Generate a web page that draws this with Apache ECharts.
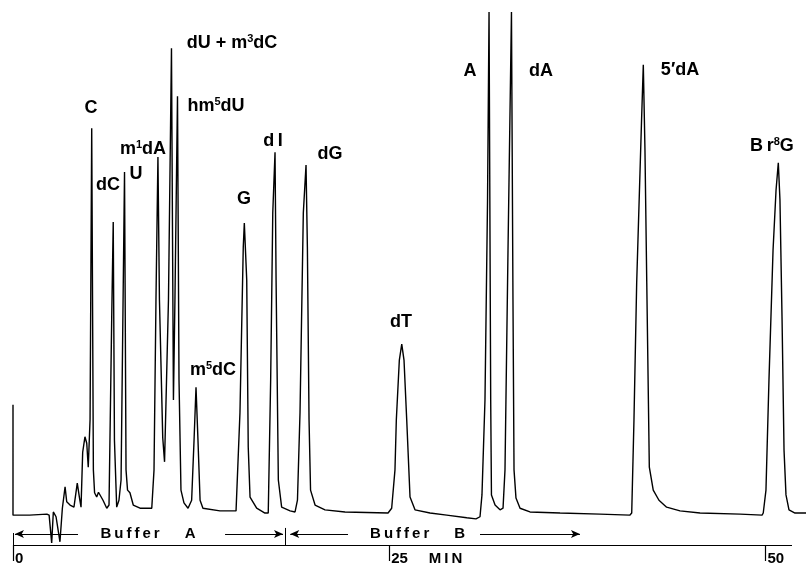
<!DOCTYPE html>
<html>
<head>
<meta charset="utf-8">
<script src="https://cdn.jsdelivr.net/npm/echarts@6/dist/echarts.min.js"></script>
<style>
html, body { margin: 0; padding: 0; background: #fff; }
#chart { width: 806px; height: 566px; }
</style>
</head>
<body>
<div id="chart"></div>
<script>
// chromatogram trace: [time (min), detector signal (% of full scale)]
var tracePoints = [
  [0, 26.3], [0, 5.6], [1.1, 5.6], [2.25, 5.8], [2.4, 5.6], [2.57, 0.4], [2.68, 6.2], [2.86, 5.3],
  [3.12, 0.6], [3.28, 6.9], [3.46, 10.9], [3.57, 8.1], [3.79, 7.5], [4.05, 7.1], [4.27, 11.6],
  [4.41, 9.0], [4.52, 7.1], [4.63, 17.4], [4.78, 20.3], [4.90, 19.1], [5.00, 14.6], [5.12, 23.5],
  // C
  [5.23, 78.2], [5.34, 14.1], [5.42, 9.8], [5.56, 9.0], [5.68, 9.9], [5.78, 9.8], [5.98, 8.4],
  [6.23, 6.9], [6.38, 7.5], [6.56, 42.8],
  // dC
  [6.66, 60.6], [6.74, 19.7], [6.89, 7.1], [7.04, 8.4], [7.18, 12.2],
  // U
  [7.41, 70.0], [7.51, 14.1], [7.61, 10.3], [7.77, 9.8], [7.99, 7.5], [8.44, 6.9], [9.22, 6.9],
  [9.37, 14.1], [9.50, 46.0],
  // m1dA
  [9.63, 72.8], [9.73, 46.0], [9.95, 20.1], [10.07, 15.6], [10.33, 46.0],
  // dU + m3dC, hm5dU
  [10.53, 93.2], [10.66, 27.2], [10.76, 46.0], [10.93, 84.2], [11.03, 31.0], [11.16, 10.3],
  [11.36, 7.9], [11.63, 6.9], [11.87, 8.4], [12.03, 19.7],
  // m5dC
  [12.16, 29.6], [12.29, 19.7], [12.43, 8.4], [12.62, 6.9], [13.75, 6.4], [14.82, 6.4],
  // G
  [14.90, 6.6], [15.08, 24.8], [15.30, 55.9], [15.37, 60.4], [15.53, 49.7], [15.63, 18.4],
  [15.75, 9.0], [16.19, 6.9], [16.74, 6.0],
  // dI
  [16.96, 6.0], [17.12, 31.0], [17.26, 62.3], [17.41, 73.7], [17.48, 49.7], [17.63, 12.2],
  [17.85, 7.1], [18.41, 6.4],
  // dG
  [18.74, 6.2], [18.90, 8.4], [19.07, 24.8], [19.29, 62.3], [19.47, 71.3], [19.56, 55.9],
  [19.67, 23.5], [19.77, 10.3], [20.07, 7.5], [20.73, 6.6], [22.06, 6.2], [24.92, 6.0],
  // dT
  [25.16, 6.9], [25.38, 14.1], [25.47, 23.5], [25.67, 34.7], [25.83, 37.7], [25.98, 34.7],
  [26.16, 23.5], [26.38, 9.0], [26.71, 6.6], [27.71, 6.0], [28.82, 5.6], [30.15, 5.1],
  [30.76, 4.9], [31.03, 5.3],
  // A (off scale)
  [31.16, 9.4], [31.36, 27.2], [31.53, 64.7], [31.63, 100], [31.74, 27.2], [31.79, 9.4],
  [32.03, 7.5], [32.36, 6.6], [32.56, 6.9],
  // dA (off scale)
  [32.69, 14.1], [32.89, 55.3], [33.12, 100], [33.22, 46.0], [33.29, 14.1], [33.42, 8.8],
  [33.69, 6.9], [34.35, 6.2], [36.35, 6.0], [39.0, 5.8], [40.98, 5.6],
  // 5'dA
  [41.11, 6.0], [41.26, 23.5], [41.44, 49.2], [41.77, 80.3], [41.88, 90.1], [41.99, 74.1],
  [42.11, 49.2], [42.28, 14.6], [42.54, 10.3], [42.92, 8.4], [43.43, 7.1], [44.32, 6.4],
  [45.65, 6.0], [48.31, 5.8], [49.77, 5.6],
  // Br8G
  [49.85, 6.0], [50.03, 10.3], [50.23, 31.0], [50.50, 55.3], [50.70, 66.6], [50.85, 71.7],
  [50.96, 64.7], [51.10, 42.2], [51.23, 17.8], [51.36, 9.4], [51.56, 6.6], [51.96, 6.0], [52.69, 6.0]
];

// peak names and where their labels sit
var peakNames = ['C', 'dC', 'U', 'm{s|1}dA', 'dU + m{s|3}dC', 'hm{s|5}dU', 'G', 'd\u2009I', 'dG',
  'm{s|5}dC', 'dT', 'A', 'dA', '5\u2032dA', 'B\u2009r{s|8}G'];
var peakLabelTime = [5.18, 6.31, 8.17, 8.64, 14.55, 13.49, 15.35, 17.28, 21.06,
  13.29, 25.78, 30.37, 35.08, 44.32, 50.43];
var peakLabelLevel = [82.0, 67.5, 69.6, 74.3, 94.2, 82.4, 64.9, 75.8, 73.4,
  32.8, 41.8, 88.9, 88.9, 89.1, 74.9];

var tickValues = [0, 25, 50];
var tickLabels = ['0', '25     M\u2009I\u2009N', '50'];
var axisEnd = 51.76;

// buffer program
var bufferNames = ['B\u2009u\u2009f\u2009f\u2009e\u2009r      A', 'B\u2009u\u2009f\u2009f\u2009e\u2009r      B'];
var bufferTextTime = [8.97, 26.88];
var bufferLevel = 2.06;
var bufferArrows = [[4.32, 0.13], [14.09, 17.94], [22.26, 18.42], [31.03, 37.67]];
var bufferBars = [[0, 2.25], [18.1, 3.2]];

var font = '"Liberation Sans", Arial, sans-serif';
var ink = '#000';

var chart = echarts.init(document.getElementById('chart'));

var markLines = bufferArrows.map(function (s) {
  return [{ coord: [s[0], bufferLevel], symbol: 'none' },
          { coord: [s[1], bufferLevel], symbol: 'arrow', symbolSize: [6, 9] }];
}).concat(bufferBars.map(function (b) {
  return [{ coord: [b[0], 0], symbol: 'none' }, { coord: [b[0], b[1]], symbol: 'none' }];
}));
// time axis line
markLines.push([{ coord: [0, 0], symbol: 'none', lineStyle: { width: 1.2 } },
                { coord: [axisEnd, 0], symbol: 'none' }]);

var option = {
  animation: false,
  backgroundColor: '#fff',
  grid: { left: 13, right: 0, top: 12, bottom: 21 },
  xAxis: {
    type: 'value',
    min: 0,
    max: 52.69,
    interval: 25,
    splitLine: { show: false },
    axisLine: { show: false },
    axisTick: { show: true, customValues: tickValues, length: 16, lineStyle: { color: ink, width: 1.2 } },
    axisLabel: {
      customValues: tickValues,
      formatter: function (v) {
        var i = tickValues.indexOf(v);
        return i < 0 ? '' : tickLabels[i];
      },
      align: 'left',
      margin: 6,
      padding: [0, 0, 0, 2],
      color: ink,
      fontFamily: font,
      fontWeight: 'bold',
      fontSize: 15
    }
  },
  yAxis: { type: 'value', min: 0, max: 100, show: false },
  series: [
    {
      name: 'trace',
      type: 'line',
      data: tracePoints,
      symbol: 'none',
      clip: false,
      lineStyle: { color: ink, width: 1.4 },
      markLine: {
        silent: true,
        animation: false,
        symbol: ['none', 'none'],
        label: { show: false },
        lineStyle: { color: ink, width: 1, type: 'solid' },
        emphasis: { disabled: true },
        data: markLines
      }
    },
    {
      name: 'peaks',
      type: 'scatter',
      symbolSize: 0,
      silent: true,
      itemStyle: { opacity: 1 },
      data: peakNames.map(function (n, i) { return [peakLabelTime[i], peakLabelLevel[i], n]; }),
      label: {
        show: true,
        position: 'inside',
        formatter: function (p) { return p.data[2]; },
        color: ink,
        textBorderWidth: 0,
        fontFamily: font,
        fontWeight: 'bold',
        fontSize: 18,
        rich: {
          s: { fontSize: 11, fontWeight: 'bold', fontFamily: font, color: ink, textBorderWidth: 0, padding: [0, 0, 8, 0] }
        }
      }
    },
    {
      name: 'buffers',
      type: 'scatter',
      symbolSize: 0,
      silent: true,
      itemStyle: { opacity: 1 },
      data: bufferNames.map(function (n, i) { return [bufferTextTime[i], bufferLevel, n]; }),
      label: {
        show: true,
        position: 'inside',
        formatter: function (p) { return p.data[2]; },
        color: ink,
        textBorderWidth: 0,
        fontFamily: font,
        fontWeight: 'bold',
        fontSize: 15
      }
    }
  ]
};

chart.setOption(option);
</script>
</body>
</html>
